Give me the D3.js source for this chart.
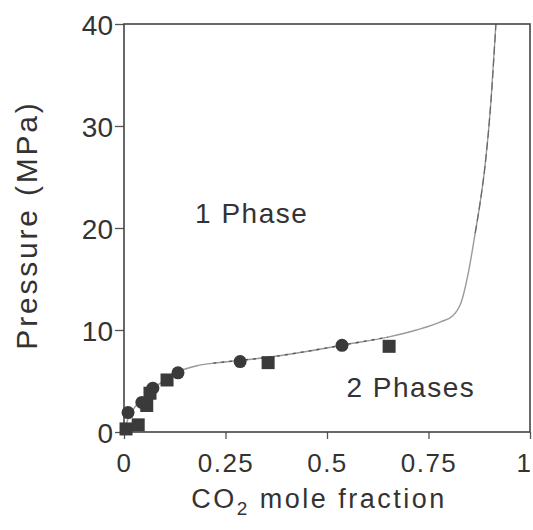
<!DOCTYPE html>
<html>
<head>
<meta charset="utf-8">
<script src="https://cdn.jsdelivr.net/npm/d3@7"></script>
<style>
  body { margin: 0; background: #fff; }
  text { font-family: "Liberation Sans", Arial, sans-serif; fill: #333; }
</style>
</head>
<body>
<svg id="chart" width="533" height="530"></svg>
<script>
// Phase boundary curve (CO2 mole fraction, pressure MPa)
const curveX = [0, 0.01, 0.03, 0.05, 0.08, 0.11, 0.14, 0.18, 0.22, 0.28, 0.35, 0.45, 0.55, 0.65, 0.72, 0.78, 0.81, 0.832, 0.85, 0.865, 0.878, 0.889, 0.904, 0.916];
const curveP = [0, 1.3, 2.6, 3.4, 4.5, 5.3, 6.0, 6.5, 6.75, 7.0, 7.3, 7.9, 8.6, 9.3, 10.0, 10.8, 11.4, 12.9, 16.0, 19.5, 22.7, 26.0, 32.5, 40];
// Data: circles
const circX = [0.01, 0.044, 0.071, 0.133, 0.286, 0.537];
const circP = [1.9, 2.9, 4.3, 5.8, 6.9, 8.5];
// Data: squares
const sqX = [0.005, 0.035, 0.056, 0.064, 0.106, 0.355, 0.653];
const sqP = [0.3, 0.7, 2.6, 3.8, 5.1, 6.8, 8.4];
// Ticks
const xTicks = [0, 0.25, 0.5, 0.75, 1];
const xTickLabels = ["0", "0.25", "0.5", "0.75", "1"];
const yTicks = [0, 10, 20, 30, 40];

const svg = d3.select("#chart");
const L = 124, R = 530, T = 24, B = 432;
const x = d3.scaleLinear().domain([0, 1]).range([L, R]);
const y = d3.scaleLinear().domain([0, 40]).range([B, T]);

// Curve
const pts = curveX.map((v, i) => [v, curveP[i]]);
const line = d3.line().x(d => x(d[0])).y(d => y(d[1])).curve(d3.curveMonotoneX);
svg.append("path").datum(pts).attr("d", line)
  .attr("fill", "none").attr("stroke", "#9a9a9a").attr("stroke-width", 1.4);
const midPts = pts.filter(d => d[0] >= 0.22 && d[0] <= 0.65);
svg.append("path").datum(midPts).attr("d", line)
  .attr("fill", "none").attr("stroke", "#555").attr("stroke-width", 1.4)
  .attr("stroke-dasharray", "3,5");
const steepPts = pts.filter(d => d[0] >= 0.865);
svg.append("path").datum(steepPts).attr("d", line)
  .attr("fill", "none").attr("stroke", "#666").attr("stroke-width", 1.2)
  .attr("stroke-dasharray", "8,4");

// Axes
const xAxis = d3.axisBottom(x).tickValues(xTicks).tickFormat((d, i) => xTickLabels[i]).tickSize(7).tickPadding(15);
const gx = svg.append("g").attr("transform", `translate(0,${B})`).call(xAxis);
const yAxis = d3.axisLeft(y).tickValues(yTicks).tickSize(9).tickPadding(2);
const gy = svg.append("g").attr("transform", `translate(${L},0)`).call(yAxis);
[gx, gy].forEach(g => {
  g.select(".domain").remove();
  g.selectAll(".tick line").attr("stroke", "#555").attr("stroke-width", 1.3);
  g.selectAll(".tick text").style("fill", "#333");
});
gx.selectAll(".tick text").style("font-size", "26px").style("letter-spacing", "1.5px");
gx.selectAll(".tick text").filter(d => d === 1).attr("dx", -6);
gy.selectAll(".tick text").style("font-size", "28px").attr("dy", "0.36em");

// Frame
svg.append("rect").attr("x", L).attr("y", T).attr("width", R - L).attr("height", B - T)
  .attr("fill", "none").attr("stroke", "#444").attr("stroke-width", 1.6);

// Markers
svg.append("g").selectAll("circle").data(circX).join("circle")
  .attr("cx", d => x(d)).attr("cy", (d, i) => y(circP[i])).attr("r", 6.5)
  .attr("fill", "#3a3a3a");
svg.append("g").selectAll("rect").data(sqX).join("rect")
  .attr("x", d => x(d) - 6.5).attr("y", (d, i) => y(sqP[i]) - 6.5)
  .attr("width", 13).attr("height", 13).attr("fill", "#3a3a3a");

// Region labels
svg.append("text").attr("x", x(0.175)).attr("y", y(20.5)).text("1 Phase")
  .style("font-size", "28px").style("letter-spacing", "1.5px");
svg.append("text").attr("x", x(0.548)).attr("y", y(3.43)).text("2 Phases")
  .style("font-size", "28px").style("letter-spacing", "1.5px");

// Axis titles
const xt = svg.append("text").attr("x", 319).attr("y", 508).attr("text-anchor", "middle")
  .style("font-size", "27px").style("letter-spacing", "2.5px");
xt.append("tspan").text("CO");
xt.append("tspan").text("2").attr("dy", 7).style("font-size", "19px");
xt.append("tspan").text(" mole fraction").attr("dy", -7);
svg.append("text").attr("transform", "translate(37,225) rotate(-90)")
  .attr("text-anchor", "middle").style("font-size", "30px").style("letter-spacing", "2.8px")
  .text("Pressure (MPa)");
</script>
</body>
</html>
